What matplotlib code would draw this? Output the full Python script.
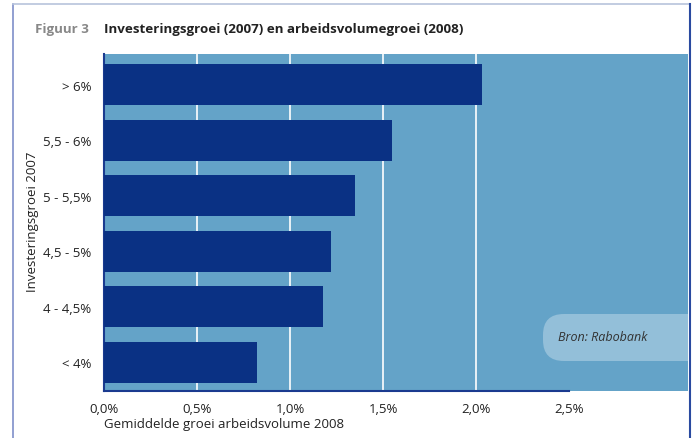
import matplotlib
matplotlib.use("Agg")
import matplotlib.pyplot as plt
from matplotlib.patches import FancyBboxPatch
from matplotlib.lines import Line2D

categories = ["< 4%", "4 - 4,5%", "4,5 - 5%", "5 - 5,5%", "5,5 - 6%", "> 6%"]
values = [0.82, 1.18, 1.22, 1.35, 1.55, 2.03]
xticks = [0.0, 0.5, 1.0, 1.5, 2.0, 2.5]
xticklabels = ["0,0%", "0,5%", "1,0%", "1,5%", "2,0%", "2,5%"]

W, H = 694, 439
plt.rcParams['font.family'] = ['Open Sans', 'DejaVu Sans']
fig = plt.figure(figsize=(W / 100, H / 100), dpi=100)

# axes placement in pixels
left, right, top, bottom = 104, 688, 55, 392
ax = fig.add_axes([left / W, 1 - bottom / H, (right - left) / W, (bottom - top) / H])
bg = "#64a3c8"
barc = "#0a3184"
ax.set_facecolor(bg)
ypos = list(range(len(categories)))
ax.barh(ypos, values, height=0.74, color=barc, zorder=3)
ax.set_xlim(0, (right - left) / 186)
ax.set_ylim(-0.52, len(categories) - 0.45)
for x in xticks[1:5]:
    ax.axvline(x, color="white", lw=1.2, zorder=1)
ax.set_xticks(xticks)
ax.set_xticklabels(xticklabels, fontsize=9.5, color="#222222")
ax.set_yticks(ypos)
ax.set_yticklabels(categories, fontsize=9.5, color="#222222")
ax.tick_params(length=0, pad=8)
ax.tick_params(axis='y', pad=9)
for s in ["top", "right"]:
    ax.spines[s].set_visible(False)
ax.spines["left"].set_color("#1a3a8f")
ax.spines["left"].set_linewidth(1.5)
ax.spines["bottom"].set_color("#1a3a8f")
ax.spines["bottom"].set_linewidth(1.5)
ax.spines["bottom"].set_bounds(0, 2.5)

# source box
box = FancyBboxPatch((543 / W, 1 - 362 / H), (689 - 543) / W + 0.03, 47 / H,
                     boxstyle="round,pad=0,rounding_size=0.03",
                     transform=fig.transFigure, facecolor="#93bfd9",
                     edgecolor="none", zorder=5, mutation_aspect=W / H)
fig.patches.append(box)
box.set_clip_box(ax.bbox)
fig.text(558 / W, 1 - 338 / H, "Bron: Rabobank", fontsize=9, style="italic",
         color="#333333", va="center", ha="left", zorder=6)

# titles
fig.text(35 / W, 1 - 29 / H, "Figuur 3", fontsize=9.6, fontweight="bold",
         color="#888888", va="center", ha="left")
fig.text(104 / W, 1 - 29 / H, "Investeringsgroei (2007) en arbeidsvolumegroei (2008)",
         fontsize=9.6, fontweight="bold", color="#222222", va="center", ha="left")
fig.text(33 / W, 1 - 222 / H, "Investeringsgroei 2007", fontsize=9.5, rotation=90,
         color="#222222", va="center", ha="center")
fig.text(104 / W, 1 - 425 / H, "Gemiddelde groei arbeidsvolume 2008", fontsize=9.5,
         color="#222222", va="center", ha="left")

# frame lines
fig.add_artist(Line2D([13 / W, 13 / W], [0, 1 - 5 / H], transform=fig.transFigure,
                      color="#7f8fca", lw=1.2))
fig.add_artist(Line2D([13 / W, 690 / W], [1 - 5 / H, 1 - 5 / H], transform=fig.transFigure,
                      color="#b8c4dc", lw=1.2))
fig.add_artist(Line2D([690 / W, 690 / W], [0, 1 - 5 / H], transform=fig.transFigure,
                      color="#2a4aa0", lw=1.5))

fig.savefig("out.png", dpi=100)
